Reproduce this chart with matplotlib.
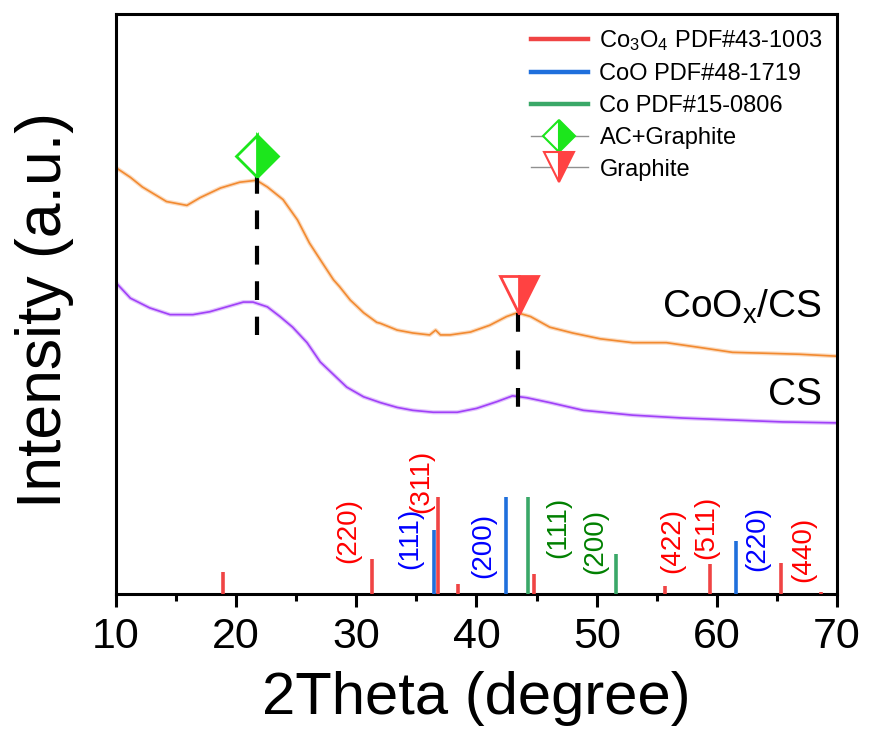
import matplotlib
matplotlib.use("Agg")
import matplotlib.pyplot as plt
from matplotlib.lines import Line2D

plt.rcParams['font.family'] = ['Liberation Sans', 'DejaVu Sans']
plt.rcParams['mathtext.fontset'] = 'custom'
plt.rcParams['mathtext.rm'] = 'Liberation Sans'
plt.rcParams['mathtext.it'] = 'Liberation Sans'

# ---- XRD patterns (2theta in degrees, intensity in arbitrary units) ----
coox_cs_2theta = [10.0, 11.2, 12.2, 14.2, 15.9, 17.0, 18.7, 20.3, 21.7, 22.6, 23.9,
                  25.1, 26.1, 27.2, 28.1, 28.6, 29.5, 30.1, 30.6, 31.7, 32.0, 33.4,
                  34.7, 36.1, 36.6, 37.0, 37.8, 39.5, 41.1, 42.5, 43.4, 44.5, 46.1,
                  48.0, 50.3, 53.0, 55.8, 58.6, 61.3, 64.2, 66.9, 70.0]
coox_cs_int = [441, 431, 421, 406, 402, 410, 420, 426, 428, 421, 408,
               387, 363, 342, 325, 318, 304, 297, 291, 281, 280, 273,
               270, 268, 273, 268, 268, 271, 278, 287, 291, 287, 276,
               270, 264, 260, 260, 255, 250, 249, 248, 246]

cs_2theta = [10.0, 11.2, 12.8, 14.5, 16.4, 17.8, 19.2, 20.6, 21.4, 22.6, 23.65,
             24.7, 25.9, 27.0, 28.1, 29.2, 30.6, 32.0, 33.4, 34.7, 36.4, 38.4,
             40.0, 41.7, 43.0, 44.2, 46.1, 48.9, 53.0, 57.2, 61.3, 65.5, 70.0]
cs_int = [322, 306, 296, 289, 289, 292, 297, 302, 302, 297, 287,
          276, 260, 240, 227, 214, 204, 198, 193, 190, 188, 188,
          192, 199, 205, 203, 198, 190, 185, 182, 180, 178, 177]

# ---- Standard reference patterns (relative intensity) ----
co3o4_pos = [18.9, 31.3, 36.8, 38.5, 44.8, 55.7, 59.4, 65.3, 68.7]
co3o4_rel = [23, 36, 100, 10, 21, 8, 31, 32, 2]
coo_pos = [36.5, 42.45, 61.6]
coo_rel = [66, 100, 55]
co_pos = [44.3, 51.6]
co_rel = [100, 41]

# ---- Miller index annotations ----
hkl_text = ['(220)', '(111)', '(311)', '(200)', '(111)', '(200)',
            '(422)', '(511)', '(220)', '(440)']
hkl_x = [29.3, 34.5, 35.4, 40.55, 46.8, 49.85, 56.25, 59.15, 63.35, 67.15]
hkl_y = [66, 58, 117, 50, 69, 54, 55, 69, 57, 46]
hkl_phase = ['Co3O4', 'CoO', 'Co3O4', 'CoO', 'Co', 'Co',
             'Co3O4', 'Co3O4', 'CoO', 'Co3O4']

# ---- Peak markers ----
ac_graphite_x, ac_graphite_y = 21.75, 453
graphite_x, graphite_y = 43.5, 309
ac_dash = (21.7, 433, 268)
gr_dash = (43.45, 291, 193)

bar_colors = {'Co3O4': '#F04444', 'CoO': '#1F6FDC', 'Co': '#3AA868'}
text_colors = {'Co3O4': '#FF0000', 'CoO': '#0000FF', 'Co': '#008000'}
orange = '#F28A30'
purple = '#A040F8'
lime = '#1CE61C'
tri_red = '#FF4242'

fig = plt.figure(figsize=(8.69, 7.42), dpi=100)
ax = fig.add_axes([116 / 869, 1 - 594 / 742, (837 - 116) / 869, (594 - 14) / 742])

# XRD curves with a faint halo
ax.plot(coox_cs_2theta, coox_cs_int, color=orange, lw=3.0, alpha=0.3, zorder=2)
ax.plot(coox_cs_2theta, coox_cs_int, color=orange, lw=1.2, zorder=2)
ax.plot(cs_2theta, cs_int, color=purple, lw=3.0, alpha=0.3, zorder=2)
ax.plot(cs_2theta, cs_int, color=purple, lw=1.2, zorder=2)

# Reference sticks
bar_lw = 2.6
ax.vlines(co3o4_pos, 0, co3o4_rel, color=bar_colors['Co3O4'], lw=bar_lw, zorder=3)
ax.vlines(coo_pos, 0, coo_rel, color=bar_colors['CoO'], lw=bar_lw, zorder=3)
ax.vlines(co_pos, 0, co_rel, color=bar_colors['Co'], lw=bar_lw, zorder=3)

for t, x, y, ph in zip(hkl_text, hkl_x, hkl_y, hkl_phase):
    ax.text(x, y, t, rotation=90, color=text_colors[ph], fontsize=20,
            ha='center', va='center')

# Dashed guide lines under the peak markers
ax.plot([ac_dash[0]] * 2, ac_dash[1:], color='black', lw=3, dashes=(4.5, 4), zorder=4)
ax.plot([gr_dash[0]] * 2, gr_dash[1:], color='black', lw=3, dashes=(4.5, 4.5), zorder=4)

ax.plot([ac_graphite_x], [ac_graphite_y], marker='D', ms=21, color=lime,
        markeredgecolor=lime, markerfacecoloralt='white', fillstyle='right',
        mew=2, zorder=5)
ax.plot([graphite_x], [graphite_y], marker='v', ms=28, color=tri_red,
        markeredgecolor=tri_red, markerfacecoloralt='white', fillstyle='right',
        mew=2, zorder=5)

# Sample labels
ax.text(68.75, 285.5, 'CoO$_\\mathregular{x}$/CS', fontsize=28, ha='right', va='baseline')
ax.text(68.75, 195.5, 'CS', fontsize=28, ha='right', va='baseline')

ax.set_xlim(10, 70)
ax.set_ylim(0, 600)
ax.set_xticks(range(10, 71, 10))
ax.set_xticks(range(15, 70, 10), minor=True)
ax.set_yticks([])
ax.tick_params(axis='x', which='major', direction='out', length=9.5, width=2.2,
               labelsize=31, pad=7)
ax.tick_params(axis='x', which='minor', direction='out', length=5, width=2.2)
for sp in ax.spines.values():
    sp.set_linewidth(2.2)

ax.set_xlabel('2Theta (degree)', fontsize=43, labelpad=10)
ax.set_ylabel('Intensity (a.u.)', fontsize=45)
ax.yaxis.set_label_coords(-0.058, 0.49)

handles = [
    Line2D([], [], color=bar_colors['Co3O4'], lw=3.2),
    Line2D([], [], color=bar_colors['CoO'], lw=3.2),
    Line2D([], [], color=bar_colors['Co'], lw=3.2),
    Line2D([], [], color='#909090', lw=1.0, marker='D', ms=16, markerfacecolor=lime,
           markeredgecolor=lime, markerfacecoloralt='white', fillstyle='right', mew=1.5),
    Line2D([], [], color='#909090', lw=1.0, marker='v', ms=22, markerfacecolor=tri_red,
           markeredgecolor=tri_red, markerfacecoloralt='white', fillstyle='right', mew=1.5),
]
labels = ['Co$_\\mathregular{3}$O$_\\mathregular{4}$ PDF#43-1003', 'CoO PDF#48-1719',
          'Co PDF#15-0806', 'AC+Graphite', 'Graphite']
ax.legend(handles, labels, loc='upper right', frameon=False, fontsize=17,
          handlelength=2.4, handletextpad=0.5, labelspacing=0.42,
          borderaxespad=0.2, bbox_to_anchor=(1.0, 1.0))

fig.savefig('out.png', dpi=100)
